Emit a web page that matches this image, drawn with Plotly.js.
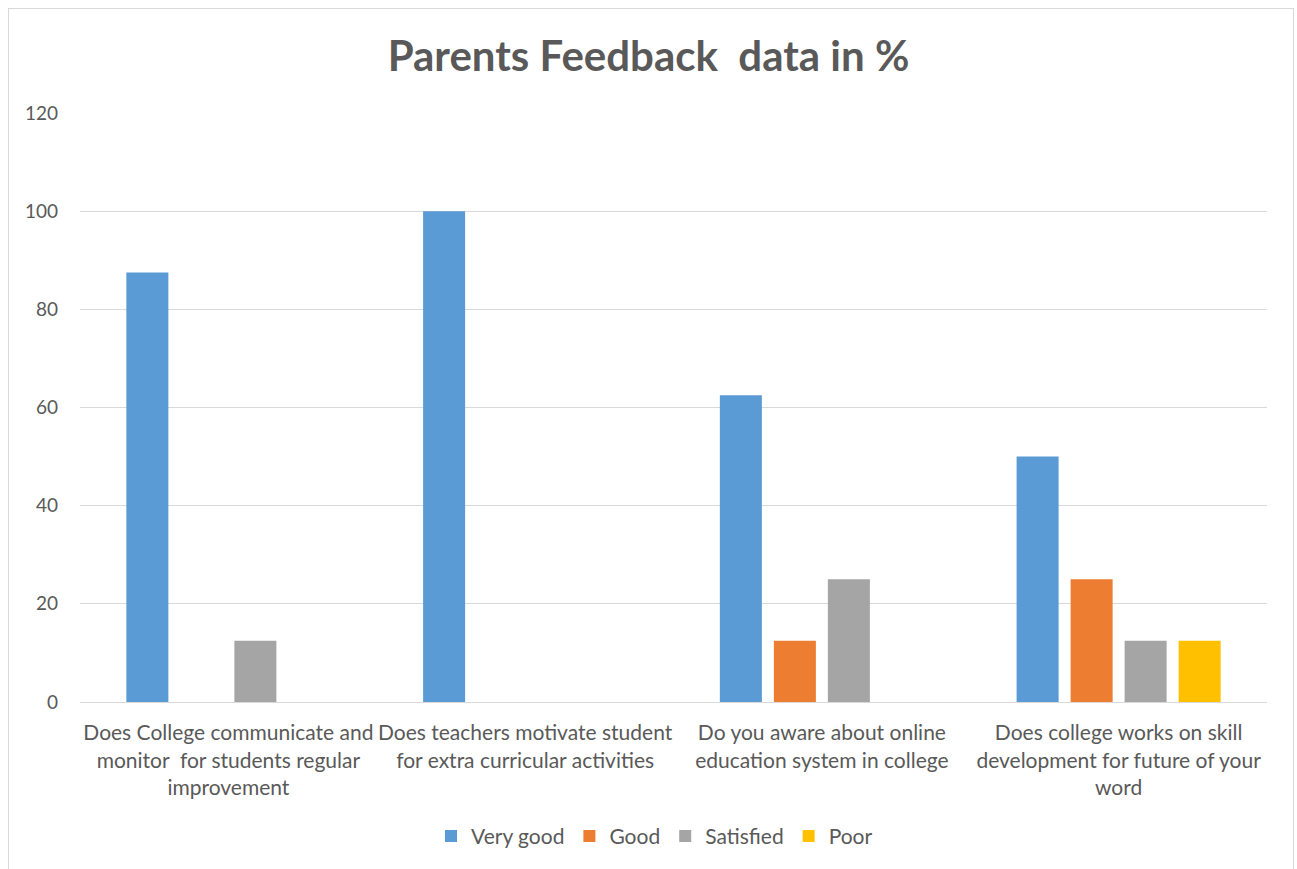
<!DOCTYPE html>
<html>
<head>
<meta charset="utf-8">
<script src="https://cdn.plot.ly/plotly-3.0.1.min.js"></script>
<style>
  html, body { margin: 0; padding: 0; background: #fff; overflow: hidden; }
  #chart { position: absolute; left: 0; top: 0; width: 1297px; height: 869px; }
  #frame { position: absolute; left: 8px; top: 8px; width: 1284px; height: 900px;
           border: 1px solid #d9d9d9; pointer-events: none; }
</style>
</head>
<body>
<div id="chart"></div>
<div id="frame"></div>
<script>
const categories = [
  "Does College communicate and<br>monitor  for students regular<br>improvement",
  "Does teachers motivate student<br>for extra curricular activities",
  "Do you aware about online<br>education system in college",
  "Does college works on skill<br>development for future of your<br>word"
];
const seriesNames = ["Very good", "Good", "Satisfied", "Poor"];
const veryGood = [87.5, 100, 62.5, 50];
const good = [0, 0, 12.5, 25];
const satisfied = [12.5, 0, 25, 12.5];
const poor = [0, 0, 0, 12.5];
const colors = ["#5b9bd5", "#ed7d31", "#a5a5a5", "#ffc000"];

const values = [veryGood, good, satisfied, poor];
const traces = values.map((v, i) => ({
  type: "bar",
  name: seriesNames[i],
  x: categories,
  y: v,
  marker: { color: colors[i] },
  hoverinfo: "y+name"
}));

const font = "Lato, 'Open Sans', sans-serif";
const layout = {
  width: 1297,
  height: 869,
  margin: { l: 80, r: 30, t: 113, b: 165 },
  paper_bgcolor: "rgba(0,0,0,0)",
  plot_bgcolor: "#fff",
  barmode: "group",
  bargap: 0.272,
  bargroupgap: 0.222,
  title: {
    text: "<b>Parents Feedback  data in %</b>",
    font: { family: font, size: 42, color: "#595959" },
    x: 0.5, xanchor: "center",
    y: 0.935, yanchor: "middle"
  },
  font: { family: font, color: "#595959" },
  xaxis: {
    type: "category",
    tickfont: { family: font, size: 21, color: "#595959" },
    showgrid: false,
    showline: true,
    linecolor: "#d9d9d9",
    linewidth: 1,
    ticks: "",
    tickangle: 0,
    ticklabelstandoff: 12,
    automargin: false
  },
  yaxis: {
    range: [0, 120],
    tickvals: [0, 20, 40, 60, 80, 100, 120],
    tickfont: { family: font, size: 19, color: "#595959" },
    showgrid: true,
    gridcolor: "#d9d9d9",
    gridwidth: 1,
    zeroline: false,
    showline: false,
    ticks: "",
    ticklabelstandoff: 21,
    automargin: false
  },
  legend: {
    orientation: "h",
    x: 0.484, xanchor: "center",
    y: -0.228, yanchor: "middle",
    font: { family: font, size: 21, color: "#595959" },
    itemwidth: 30,
    traceorder: "normal"
  },
  showlegend: true
};

Plotly.newPlot("chart", traces, layout, { displayModeBar: false, staticPlot: true });
</script>
</body>
</html>
